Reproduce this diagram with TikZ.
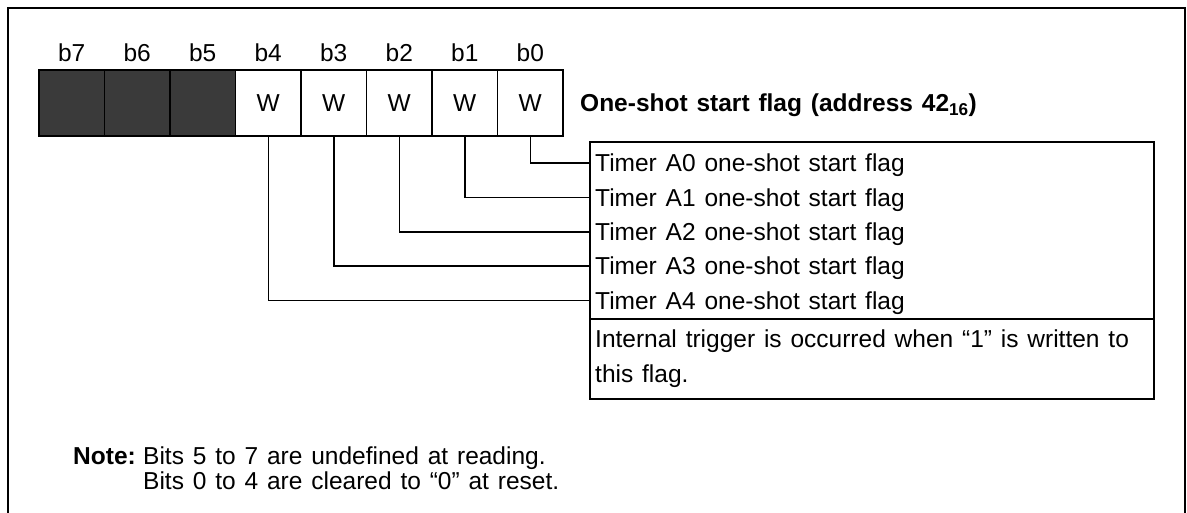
\documentclass[tikz,border=0pt]{standalone}
\usepackage{fontspec}
\setmainfont[WordSpace=1.3]{Liberation Sans}
\definecolor{shadecol}{HTML}{3A3A3A}
\tikzset{
  frameline/.style={line width=2.4pt},
  cellbox/.style={draw, line width=1.6pt, minimum width=65.5pt, minimum height=66pt, inner sep=0pt, font=\fontsize{24.5}{28}\selectfont},
  bitlbl/.style={inner sep=0pt, font=\fontsize{24.5}{28}\selectfont},
  conn/.style={line width=1.5pt},
  txt/.style={anchor=base west, inner sep=0pt, font=\fontsize{24.5}{28}\selectfont},
  boxline/.style={line width=1.6pt}
}
\begin{document}
\begin{tikzpicture}[x=1pt,y=-1pt]
\useasboundingbox (0,0) rectangle (1187,513);
% outer frame (open at the bottom)
\draw[frameline] (8,513) -- (8,8) -- (1185,8) -- (1185,513);
% register cells
\foreach \i/\n in {0/7,1/6,2/5} {
  \node[cellbox, fill=shadecol] (c\n) at ({39+65.5*(\i+0.5)},103) {};
}
\foreach \i/\n in {3/4,4/3,5/2,6/1,7/0} {
  \node[cellbox] (c\n) at ({39+65.5*(\i+0.5)},103) {W};
}
\foreach \i/\n in {0/7,1/6,2/5,3/4,4/3,5/2,6/1,7/0} {
  \node[bitlbl] (l\n) at ({39+65.5*(\i+0.5)},53) {b\n};
}
% title
\node[txt, font=\fontsize{24.5}{28}\selectfont\bfseries] (title) at (580,112) {One-shot start flag (address 42\textsubscript{16})};
% description box
\node[draw, boxline, anchor=north west, minimum width=564pt, minimum height=257pt, inner sep=0pt] (box) at (589,141) {};
\coordinate (s1) at (589,319);
\coordinate (s2) at (1153,319);
\draw[boxline] (s1) -- (s2);
% connectors and texts
\foreach \n/\y in {0/163,1/197.5,2/232,3/266,4/300.5} {
  \coordinate (r\n) at (589,\y);
  \draw[conn] (c\n.south) |- (r\n);
  \node[txt] (t\n) at (595,{\y+9}) {Timer A\n\ one-shot start flag};
}
\node[txt] (int1) at (595,347) {Internal trigger is occurred when “1” is written to};
\node[txt] (int2) at (595,382) {this flag.};
% note
\node[txt, font=\fontsize{24.5}{28}\selectfont\bfseries] (note) at (73,464) {Note:};
\node[txt] (n1) at ([xshift=7pt]note.base east) {Bits 5 to 7 are undefined at reading.};
\node[txt] (n2) at ([yshift=-25pt]n1.base west) {Bits 0 to 4 are cleared to “0” at reset.};
\end{tikzpicture}
\end{document}
